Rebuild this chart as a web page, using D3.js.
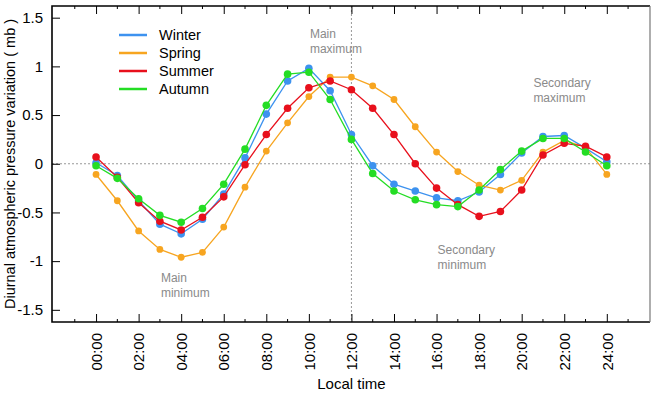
<!DOCTYPE html>
<html>
<head>
<meta charset="utf-8">
<script src="https://cdn.jsdelivr.net/npm/d3@7"></script>
<style>
  body { margin: 0; background: #fff; }
  svg { font-family: "Liberation Sans", Arial, Helvetica, sans-serif; }
</style>
</head>
<body>
<div id="chart"></div>
<script>
// hours of the day, 0..24
let hours = d3.range(0, 25);

let winter = [0.01, -0.12, -0.38, -0.62, -0.72, -0.57, -0.31, 0.06, 0.51, 0.85, 0.98, 0.75, 0.30, -0.02, -0.21, -0.28, -0.35, -0.38, -0.29, -0.11, 0.11, 0.28, 0.29, 0.16, 0.02];
let spring = [-0.11, -0.38, -0.69, -0.88, -0.96, -0.91, -0.65, -0.24, 0.13, 0.42, 0.69, 0.89, 0.89, 0.80, 0.66, 0.38, 0.12, -0.08, -0.22, -0.27, -0.17, 0.12, 0.24, 0.17, -0.11];
let summer = [0.07, -0.14, -0.40, -0.59, -0.68, -0.55, -0.34, -0.01, 0.30, 0.57, 0.78, 0.85, 0.76, 0.57, 0.30, 0.00, -0.25, -0.42, -0.54, -0.49, -0.27, 0.09, 0.21, 0.18, 0.07];
let autumn = [-0.02, -0.15, -0.36, -0.53, -0.60, -0.46, -0.21, 0.15, 0.60, 0.92, 0.94, 0.66, 0.25, -0.10, -0.28, -0.37, -0.42, -0.44, -0.27, -0.06, 0.13, 0.26, 0.26, 0.12, -0.02];

let seriesNames = ['Winter', 'Spring', 'Summer', 'Autumn'];
let seriesColors = ['#3d92ef', '#f7a520', '#e8101c', '#24dd24'];
let yTicks = [-1.5, -1, -0.5, 0, 0.5, 1, 1.5];
let xTicks = d3.range(0, 25, 2);

let notes = [
  {hour: 10.05, value: 1.29, lines: ['Main', 'maximum']},
  {hour: 3.05, value: -1.215, lines: ['Main', 'minimum']},
  {hour: 16.05, value: -0.925, lines: ['Secondary', 'minimum']},
  {hour: 20.55, value: 0.79, lines: ['Secondary', 'maximum']}
];

let series = [winter, spring, summer, autumn];

let width = 655, height = 394;
let plotLeft = 52, plotRight = 650, plotTop = 6, plotBottom = 322;

let svg = d3.select('#chart').append('svg')
  .attr('width', width)
  .attr('height', height);

let x = d3.scaleLinear().domain([-2.07, 26.03]).range([plotLeft, plotRight]);
let y = d3.scaleLinear().domain([-1.625, 1.62]).range([plotBottom, plotTop]);

// reference lines
svg.append('line')
  .attr('x1', plotLeft).attr('x2', plotRight)
  .attr('y1', y(0)).attr('y2', y(0))
  .attr('stroke', '#999').attr('stroke-width', 1)
  .attr('stroke-dasharray', '2,2');
svg.append('line')
  .attr('x1', x(12)).attr('x2', x(12))
  .attr('y1', plotTop).attr('y2', plotBottom)
  .attr('stroke', '#999').attr('stroke-width', 1)
  .attr('stroke-dasharray', '2,2');

// bottom axis, ticks inward
let minorHours = d3.range(-1, 26, 2);
let bottomAxis = svg.append('g')
  .attr('transform', `translate(0,${plotBottom})`)
  .call(d3.axisBottom(x).tickValues(xTicks).tickSize(-8).tickPadding(12)
    .tickFormat(d => d3.format('02d')(d) + ':00'));
bottomAxis.select('.domain').remove();
bottomAxis.selectAll('text')
  .attr('transform', 'rotate(-90)')
  .attr('text-anchor', 'end')
  .attr('x', -11)
  .attr('y', 0)
  .attr('dy', '0.35em')
  .attr('font-size', 15)
  .attr('fill', '#000')
  .attr('font-family', '"Liberation Sans", Arial, sans-serif');
bottomAxis.selectAll('.tick line').attr('stroke', '#000');
bottomAxis.selectAll('.minor')
  .data(minorHours).enter().append('line')
  .attr('x1', d => x(d)).attr('x2', d => x(d))
  .attr('y1', 0).attr('y2', -3)
  .attr('stroke', '#000');

// top axis, ticks only
let topAxis = svg.append('g')
  .attr('transform', `translate(0,${plotTop})`)
  .call(d3.axisTop(x).tickValues(xTicks).tickSize(-8).tickFormat(''));
topAxis.select('.domain').remove();
topAxis.selectAll('.tick line').attr('stroke', '#000');
topAxis.selectAll('.minor')
  .data(minorHours).enter().append('line')
  .attr('x1', d => x(d)).attr('x2', d => x(d))
  .attr('y1', 0).attr('y2', 3)
  .attr('stroke', '#000');

// left axis
let leftAxis = svg.append('g')
  .attr('transform', `translate(${plotLeft},0)`)
  .call(d3.axisLeft(y).tickValues(yTicks).tickSize(-8).tickPadding(9)
    .tickFormat(d => String(d)));
leftAxis.select('.domain').remove();
leftAxis.selectAll('text')
  .attr('font-size', 15)
  .attr('fill', '#000')
  .attr('font-family', '"Liberation Sans", Arial, sans-serif');
leftAxis.selectAll('.tick line').attr('stroke', '#000');

// frame
svg.append('path')
  .attr('d', `M${plotRight},${plotBottom}L${plotLeft},${plotBottom}L${plotLeft},${plotTop}L${plotRight},${plotTop}`)
  .attr('fill', 'none').attr('stroke', '#000').attr('stroke-width', 1.6);
svg.append('line')
  .attr('x1', plotRight).attr('x2', plotRight)
  .attr('y1', plotTop).attr('y2', plotBottom)
  .attr('stroke', '#777').attr('stroke-width', 1.2);

// series
let line = d3.line()
  .x((d, i) => x(hours[i]))
  .y(d => y(d));

series.forEach(function(values, k) {
  let g = svg.append('g');
  g.append('path')
    .datum(values)
    .attr('d', line)
    .attr('fill', 'none')
    .attr('stroke', seriesColors[k])
    .attr('stroke-width', 1.3);
  g.selectAll('circle')
    .data(values).enter().append('circle')
    .attr('cx', (d, i) => x(hours[i]))
    .attr('cy', d => y(d))
    .attr('r', k === 1 ? 3.4 : 3.8)
    .attr('fill', seriesColors[k]);
});

// legend
let legend = svg.append('g');
seriesNames.forEach(function(name, k) {
  let ly = 35 + k * 18;
  legend.append('line')
    .attr('x1', 119).attr('x2', 147)
    .attr('y1', ly).attr('y2', ly)
    .attr('stroke', seriesColors[k]).attr('stroke-width', 2.5);
  legend.append('text')
    .attr('x', 159).attr('y', ly)
    .attr('dy', '0.35em')
    .attr('font-size', 14.5)
    .text(name);
});

// annotations
notes.forEach(function(n) {
  let t = svg.append('text')
    .attr('x', x(n.hour))
    .attr('y', y(n.value))
    .attr('font-size', 12)
    .attr('fill', '#8a8a8a');
  n.lines.forEach(function(s, i) {
    t.append('tspan').attr('x', x(n.hour)).attr('dy', i === 0 ? 0 : 15).text(s);
  });
});

// axis titles
svg.append('text')
  .attr('transform', `translate(15,${(plotTop + plotBottom) / 2}) rotate(-90)`)
  .attr('text-anchor', 'middle')
  .attr('font-size', 14.5)
  .text('Diurnal atmospheric pressure variation ( mb )');
svg.append('text')
  .attr('x', x(12))
  .attr('y', 389)
  .attr('text-anchor', 'middle')
  .attr('font-size', 15)
  .text('Local time');
</script>
</body>
</html>
